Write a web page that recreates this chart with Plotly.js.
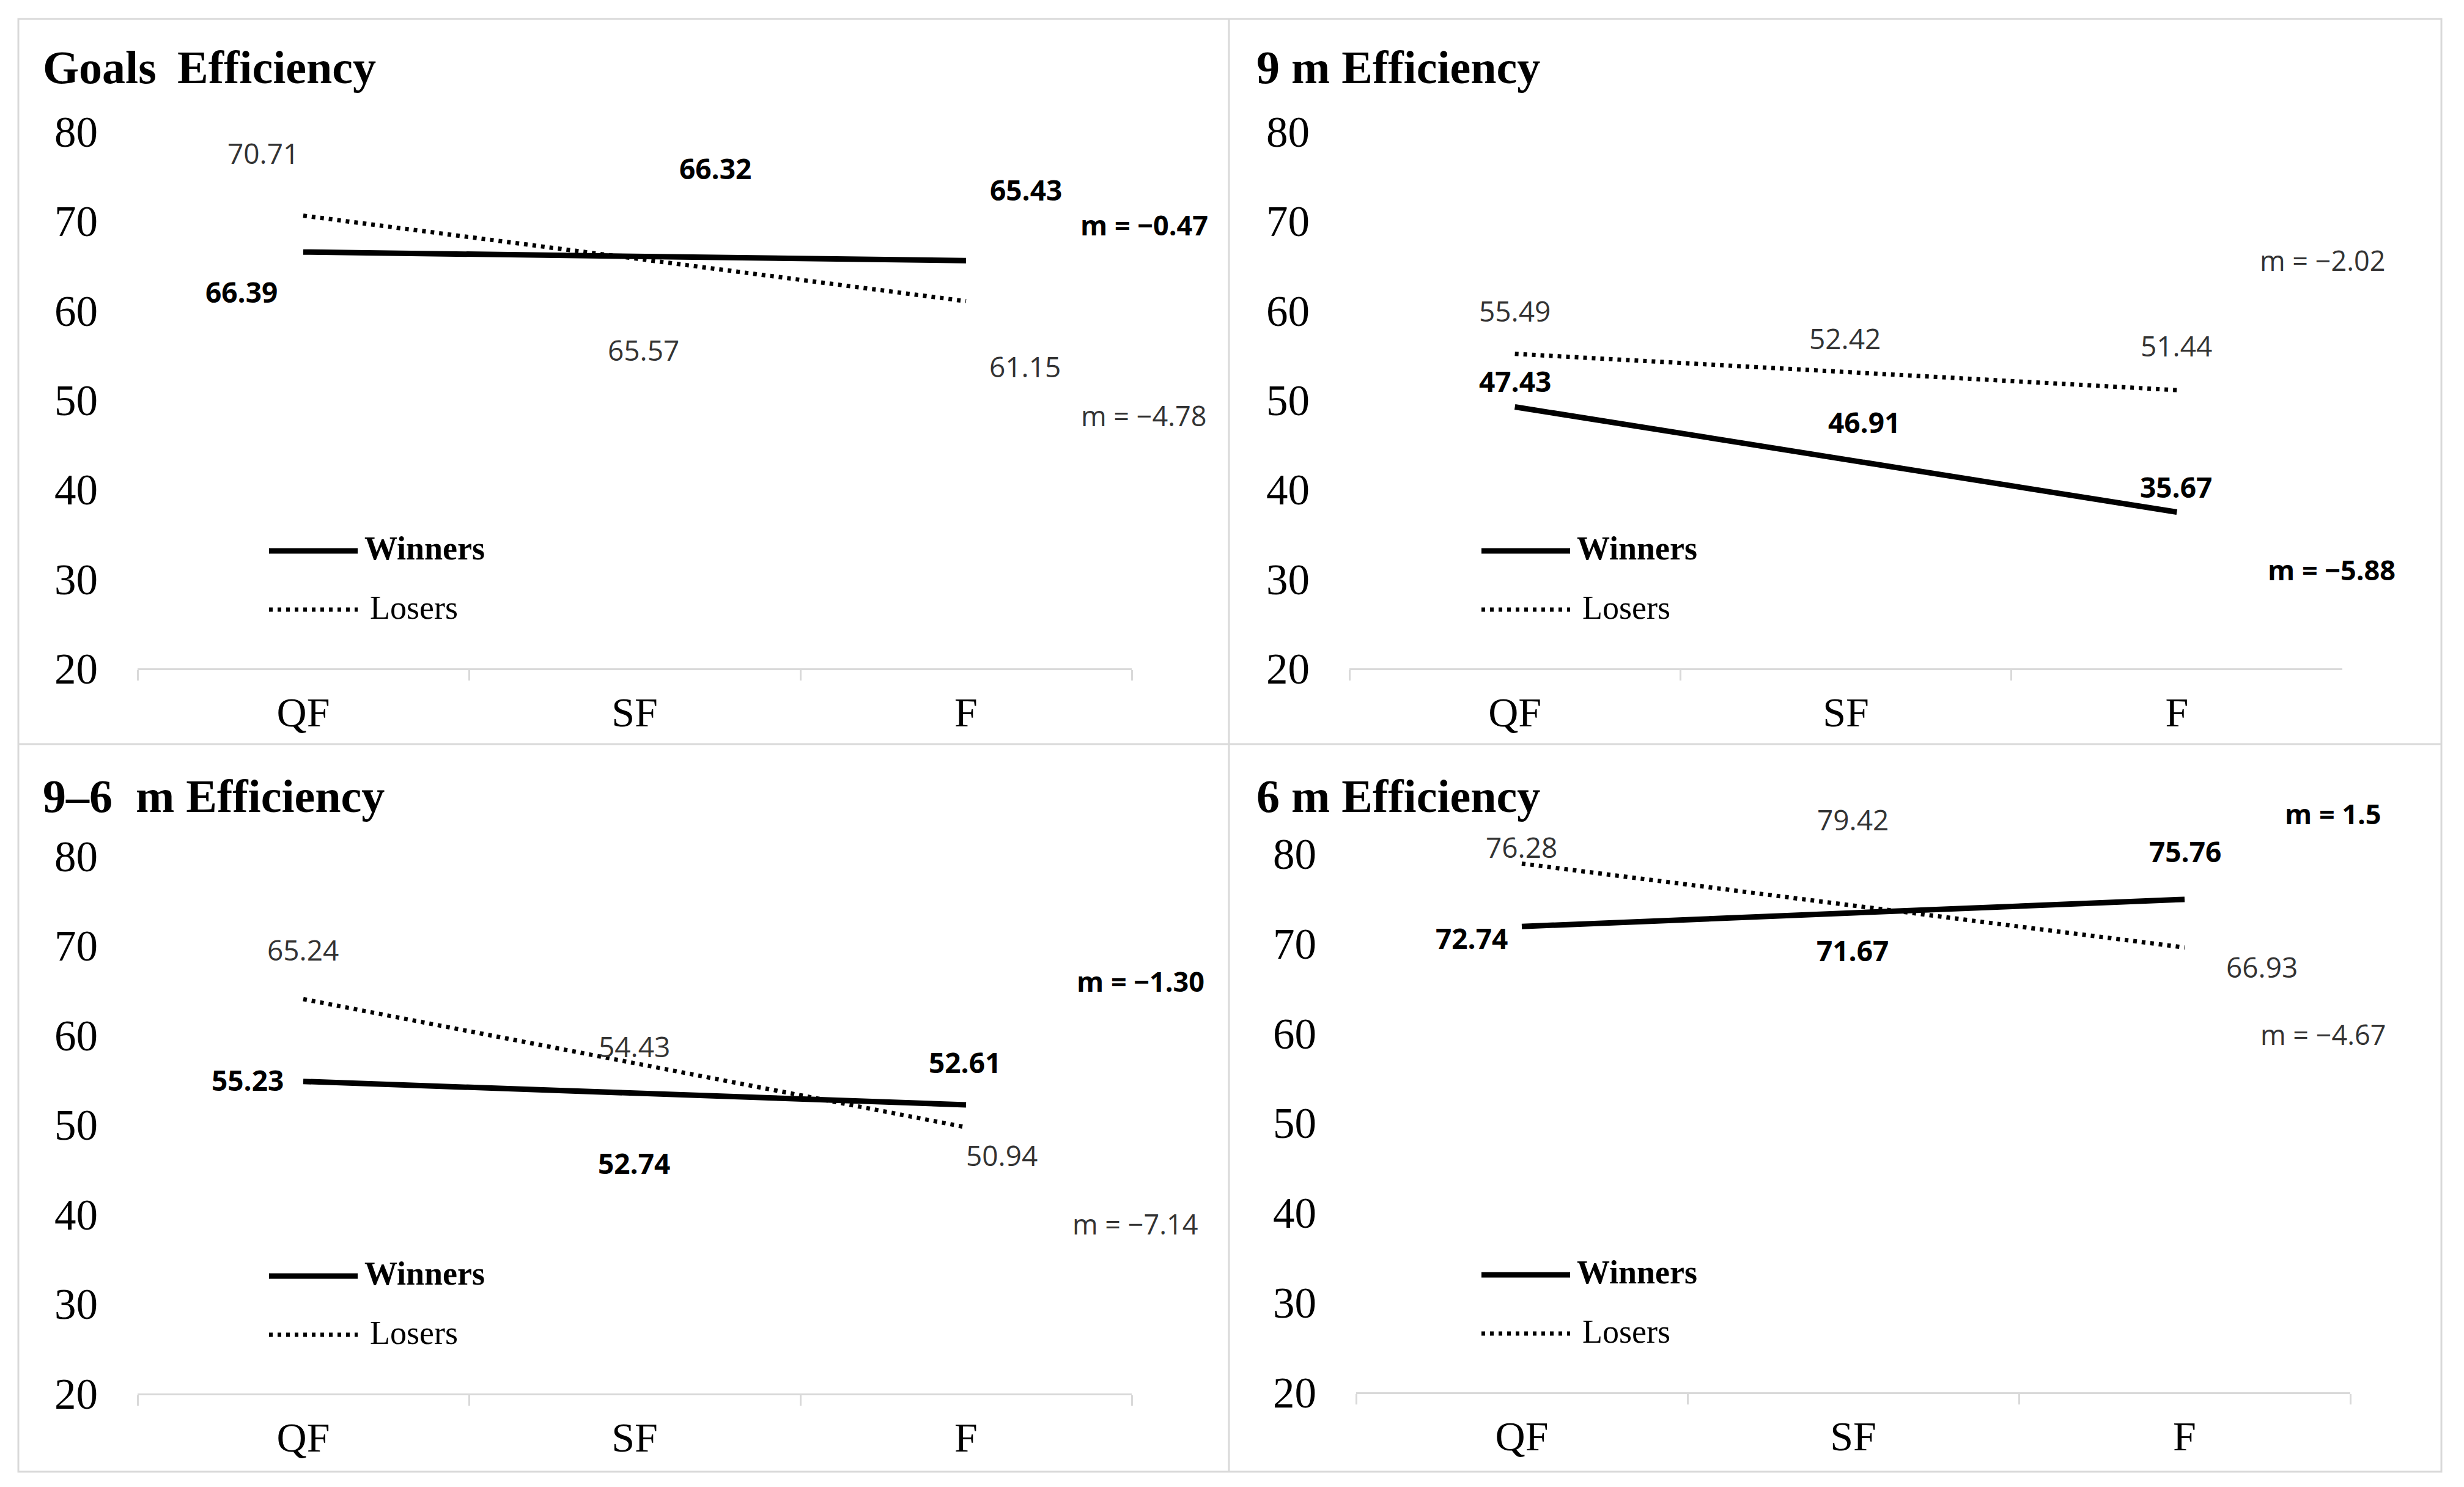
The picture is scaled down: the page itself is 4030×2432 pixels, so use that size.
<!DOCTYPE html>
<html>
<head>
<meta charset="utf-8">
<script src="https://cdn.plot.ly/plotly-3.0.1.min.js"></script>
<style>
  html, body { margin: 0; padding: 0; background: #ffffff; }
  #chart { width: 4030px; height: 2432px; }
</style>
</head>
<body>
<div id="chart"></div>
<script>
// ---------------- DATA ----------------
const categories = ['QF', 'SF', 'F'];

const goalsWinners   = [66.39, 66.32, 65.43];
const goalsLosers    = [70.71, 65.57, 61.15];
const nineWinners    = [47.43, 46.91, 35.67];
const nineLosers     = [55.49, 52.42, 51.44];
const nineSixWinners = [55.23, 52.74, 52.61];
const nineSixLosers  = [65.24, 54.43, 50.94];
const sixWinners     = [72.74, 71.67, 75.76];
const sixLosers      = [76.28, 79.42, 66.93];

const panelTitles   = ['Goals\u00a0\u2009Efficiency', '9 m Efficiency', '9\u20136\u2002m Efficiency', '6 m Efficiency'];
const slopeWinners  = ['\u22120.47', '\u22125.88', '\u22121.30', '1.5'];
const slopeLosers   = ['\u22124.78', '\u22122.02', '\u22127.14', '\u22124.67'];
const yTicks        = [20, 30, 40, 50, 60, 70, 80];
const seriesNames   = ['Winners', 'Losers'];

const winnersSets = [goalsWinners, nineWinners, nineSixWinners, sixWinners];
const losersSets  = [goalsLosers, nineLosers, nineSixLosers, sixLosers];

// ---------------- LAYOUT / STYLE (positions in pixels of the 4030x2432 page) ----------------
const W = 4030, H = 2432;
const px = x => x / W;
const py = y => 1 - y / H;

const panels = [
  { xd: [225, 1851],  yd: [1093, 215],  titleX: 68,   titleY: 110, legendX: 440 },
  { xd: [2207, 3831], yd: [1093, 215],  titleX: 2053, titleY: 110, legendX: 2423 },
  { xd: [225, 1851],  yd: [2279, 1400], titleX: 68,   titleY: 1302, legendX: 440 },
  { xd: [2218, 3844], yd: [2277, 1396], titleX: 2053, titleY: 1302, legendX: 2423 }
];
// label offsets (px) per panel: [xshift, yshift]
const winnerLabelShift = [
  [[-101, -63], [132, 140], [98, 118]],
  [[0, 69], [30, 9], [-1, 68]],
  [[-91, -3], [-1, -103], [-2, 64]],
  [[-82, -31], [-1, -36], [1, 66]]
];
const loserLabelShift = [
  [[-66, 101], [14, -146], [96, -108]],
  [[0, 66], [-2, 66], [-1, 68]],
  [[-1, 63], [-1, 64], [58, -63]],
  [[-1, 66], [-1, 65], [126, 7]]
];
// slope label centres (px)
const slopeWinPos  = [[1871, 368], [3813, 931], [1865, 1604], [3816, 1330]];
const slopeLosePos = [[1871, 680], [3799, 426], [1857, 2001], [3800, 1691]];

const SERIF = '"Liberation Serif", "Times New Roman", serif';
const SANS  = '"Open Sans", "Liberation Sans", sans-serif';
const GRID  = '#d9d9d9';
const LOSER_LINE = { color: '#000', width: 7, dash: '6px,8px' };
const WINNER_LINE = { color: '#000', width: 9 };

// least-squares trend line through the three stage values
function trend(ys) {
  const n = ys.length;
  const xs = ys.map((_, i) => i);
  const mx = xs.reduce((a, b) => a + b, 0) / n;
  const my = ys.reduce((a, b) => a + b, 0) / n;
  let sxy = 0, sxx = 0;
  for (let i = 0; i < n; i++) { sxy += (xs[i] - mx) * (ys[i] - my); sxx += (xs[i] - mx) ** 2; }
  const b = sxy / sxx, a = my - b * mx;
  return xs.map(x => a + b * x);
}

const traces = [];
const annotations = [];
const shapes = [];
const layout = {
  width: W, height: H,
  margin: { l: 0, r: 0, t: 0, b: 0 },
  paper_bgcolor: '#ffffff', plot_bgcolor: '#ffffff',
  showlegend: false,
  annotations: annotations,
  shapes: shapes
};

panels.forEach((p, i) => {
  const sfx = i === 0 ? '' : String(i + 1);
  const xa = 'x' + sfx, ya = 'y' + sfx;

  layout['xaxis' + sfx] = {
    domain: [px(p.xd[0]), px(p.xd[1])],
    anchor: ya,
    type: 'category',
    categoryorder: 'array', categoryarray: categories,
    range: [-0.5, 2.5],
    tickson: 'boundaries',
    ticks: 'outside', ticklen: 17, tickwidth: 3, tickcolor: GRID,
    showline: true, linecolor: GRID, linewidth: 3,
    showgrid: false, zeroline: false,
    ticklabelstandoff: 10,
    tickfont: { family: SERIF, size: 68, color: '#000' },
    fixedrange: true
  };
  layout['yaxis' + sfx] = {
    domain: [py(p.yd[0]), py(p.yd[1])],
    anchor: xa,
    range: [20, 80],
    tickmode: 'array', tickvals: yTicks,
    ticks: '', showline: false, showgrid: false, zeroline: false,
    ticklabelstandoff: 64,
    tickfont: { family: SERIF, size: 71, color: '#000' },
    fixedrange: true
  };

  const wy = winnersSets[i], ly = losersSets[i];
  traces.push({
    x: categories, y: trend(wy), xaxis: xa, yaxis: ya,
    mode: 'lines', name: seriesNames[0], cliponaxis: false,
    line: WINNER_LINE, hoverinfo: 'skip'
  });
  traces.push({
    x: categories, y: trend(ly), xaxis: xa, yaxis: ya,
    mode: 'lines', name: seriesNames[1], cliponaxis: false,
    line: LOSER_LINE, hoverinfo: 'skip'
  });

  // data labels
  categories.forEach((c, k) => {
    annotations.push({
      xref: xa, yref: ya, x: c, y: wy[k], showarrow: false,
      xshift: winnerLabelShift[i][k][0], yshift: winnerLabelShift[i][k][1],
      text: '<b>' + wy[k].toFixed(2) + '</b>',
      font: { family: SANS, size: 46, color: '#000' },
      xanchor: 'center', yanchor: 'middle'
    });
    annotations.push({
      xref: xa, yref: ya, x: c, y: ly[k], showarrow: false,
      xshift: loserLabelShift[i][k][0], yshift: loserLabelShift[i][k][1],
      text: ly[k].toFixed(2),
      font: { family: SANS, size: 46, color: '#333' },
      xanchor: 'center', yanchor: 'middle'
    });
  });

  // slope labels
  annotations.push({
    xref: 'paper', yref: 'paper', x: px(slopeWinPos[i][0]), y: py(slopeWinPos[i][1]),
    showarrow: false, text: '<b>m = ' + slopeWinners[i] + '</b>',
    font: { family: SANS, size: 45, color: '#000' }, xanchor: 'center', yanchor: 'middle'
  });
  annotations.push({
    xref: 'paper', yref: 'paper', x: px(slopeLosePos[i][0]), y: py(slopeLosePos[i][1]),
    showarrow: false, text: 'm = ' + slopeLosers[i],
    font: { family: SANS, size: 45, color: '#333' }, xanchor: 'center', yanchor: 'middle'
  });

  // panel title
  annotations.push({
    xref: 'paper', yref: 'paper', x: px(p.titleX), y: py(p.titleY),
    showarrow: false, text: '<b>' + panelTitles[i] + '</b>',
    font: { family: SERIF, size: 76, color: '#000' }, xanchor: 'left', yanchor: 'middle'
  });

  // in-plot legend
  const axisY = p.yd[0], lx = p.legendX;
  shapes.push({ type: 'line', xref: 'paper', yref: 'paper',
    x0: px(lx), x1: px(lx + 145), y0: py(axisY - 192), y1: py(axisY - 192),
    line: WINNER_LINE });
  shapes.push({ type: 'line', xref: 'paper', yref: 'paper',
    x0: px(lx), x1: px(lx + 145), y0: py(axisY - 96), y1: py(axisY - 96),
    line: LOSER_LINE });
  annotations.push({ xref: 'paper', yref: 'paper', x: px(lx + 154), y: py(axisY - 196),
    showarrow: false, text: '<b>' + seriesNames[0] + '</b>',
    font: { family: SERIF, size: 54, color: '#000' }, xanchor: 'left', yanchor: 'middle' });
  annotations.push({ xref: 'paper', yref: 'paper', x: px(lx + 163), y: py(axisY - 99),
    showarrow: false, text: seriesNames[1],
    font: { family: SERIF, size: 54, color: '#000' }, xanchor: 'left', yanchor: 'middle' });
});

// panel frame
shapes.push({ type: 'rect', xref: 'paper', yref: 'paper', x0: px(30), x1: px(3993), y0: py(31), y1: py(2407),
  line: { color: GRID, width: 3 } });
shapes.push({ type: 'line', xref: 'paper', yref: 'paper', x0: px(2010), x1: px(2010), y0: py(31), y1: py(2407),
  line: { color: GRID, width: 3 } });
shapes.push({ type: 'line', xref: 'paper', yref: 'paper', x0: px(30), x1: px(3993), y0: py(1217), y1: py(1217),
  line: { color: GRID, width: 3 } });

Plotly.newPlot('chart', traces, layout, { staticPlot: true, displayModeBar: false });
</script>
</body>
</html>
